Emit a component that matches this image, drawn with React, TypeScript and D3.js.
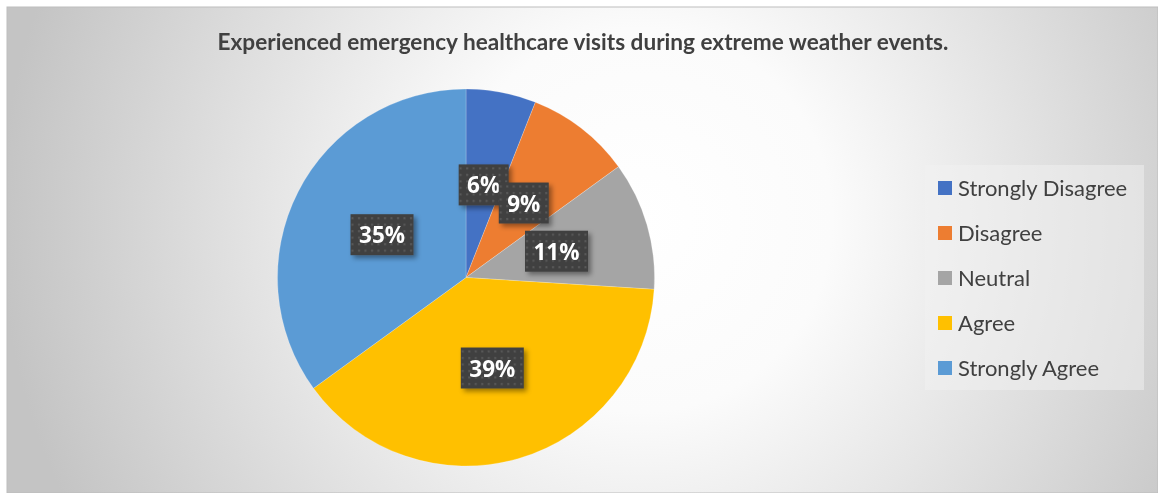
import React, { useEffect, useRef } from "react";
import * as d3 from "d3";

const categories = ["Strongly Disagree", "Disagree", "Neutral", "Agree", "Strongly Agree"];
const values = [6, 9, 11, 39, 35];
const labels = ["6%", "9%", "11%", "39%", "35%"];
const colors = ["#4472C4", "#ED7D31", "#A5A5A5", "#FFC000", "#5B9BD5"];
const title = "Experienced emergency healthcare visits during extreme weather events.";

export default function App() {
  const ref = useRef<SVGSVGElement>(null);
  useEffect(() => {
    const svg = d3.select(ref.current);
    svg.selectAll("*").remove();
    const W = 1158, H = 493;
    const defs = svg.append("defs");
    const rg = defs.append("radialGradient").attr("id", "bg").attr("gradientUnits", "userSpaceOnUse")
      .attr("cx", 640).attr("cy", 220).attr("r", 640);
    rg.append("stop").attr("offset", "0").attr("stop-color", "#ffffff");
    rg.append("stop").attr("offset", "0.3").attr("stop-color", "#fbfbfb");
    rg.append("stop").attr("offset", "1").attr("stop-color", "#c4c4c4");
    const pat = defs.append("pattern").attr("id", "dots").attr("patternUnits", "userSpaceOnUse")
      .attr("width", 6.5).attr("height", 6.5);
    pat.append("rect").attr("width", 6.5).attr("height", 6.5).attr("fill", "#404040");
    pat.append("rect").attr("x", 2).attr("y", 2).attr("width", 2).attr("height", 2).attr("fill", "#5a5a5a");
    const f = defs.append("filter").attr("id", "sh").attr("x", "-30%").attr("y", "-30%").attr("width", "160%").attr("height", "160%");
    f.append("feDropShadow").attr("dx", 3).attr("dy", 3).attr("stdDeviation", 2.5).attr("flood-color", "#000").attr("flood-opacity", 0.4);

    svg.append("rect").attr("x", 7).attr("y", 7).attr("width", W - 7).attr("height", H - 7)
      .attr("fill", "url(#bg)").attr("stroke", "#bdbdbd").attr("stroke-width", 1);

    svg.append("text").attr("x", 583).attr("y", 50).attr("text-anchor", "middle")
      .attr("font-family", "Lato, 'Open Sans', sans-serif").attr("font-weight", 700).attr("font-size", 22.6)
      .attr("fill", "#404040").text(title);

    const cx = 466, cy = 277.5, R = 188.5;
    const pie = d3.pie<number>().sort(null).value((d) => d);
    const arcs = pie(values);
    const arc = d3.arc<d3.PieArcDatum<number>>().innerRadius(0).outerRadius(R);
    const g = svg.append("g").attr("transform", `translate(${cx},${cy})`);
    g.selectAll("path").data(arcs).join("path").attr("d", arc as any)
      .attr("fill", (_, i) => colors[i]).attr("stroke", "#ffffff").attr("stroke-opacity", 0.35).attr("stroke-width", 0.6);

    const lab = d3.arc<d3.PieArcDatum<number>>().innerRadius(0).outerRadius(R * 1.0);
    arcs.forEach((a, i) => {
      const [x, y] = lab.centroid(a);
      const w = labels[i].length > 2 ? 63 : 50, h = 41;
      const lg = g.append("g").attr("transform", `translate(${x},${y})`);
      lg.append("rect").attr("x", -w / 2).attr("y", -h / 2).attr("width", w).attr("height", h)
        .attr("fill", "url(#dots)").attr("filter", "url(#sh)");
      lg.append("text").attr("text-anchor", "middle").attr("y", 8.5)
        .attr("font-family", "'Open Sans', sans-serif").attr("font-weight", 700).attr("font-size", 22.5)
        .attr("fill", "#ffffff").text(labels[i]);
    });

    const leg = svg.append("g");
    leg.append("rect").attr("x", 925).attr("y", 165).attr("width", 219).attr("height", 225)
      .attr("fill", "#f2f2f2").attr("fill-opacity", 0.5);
    const ly = d3.scaleBand().domain(categories).range([165.5, 390.5]);
    categories.forEach((c, i) => {
      const yc = (ly(c) as number) + ly.bandwidth() / 2;
      leg.append("rect").attr("x", 938).attr("y", yc - 7).attr("width", 14).attr("height", 14).attr("fill", colors[i]);
      leg.append("text").attr("x", 958).attr("y", yc + 7.5).attr("font-family", "Lato, 'Open Sans', sans-serif")
        .attr("font-size", 22).attr("fill", "#404040").text(c);
    });
  }, []);
  return (
    <svg ref={ref} width={1158} height={493} style={{ position: "fixed", left: 0, top: 0, display: "block" }} />
  );
}
